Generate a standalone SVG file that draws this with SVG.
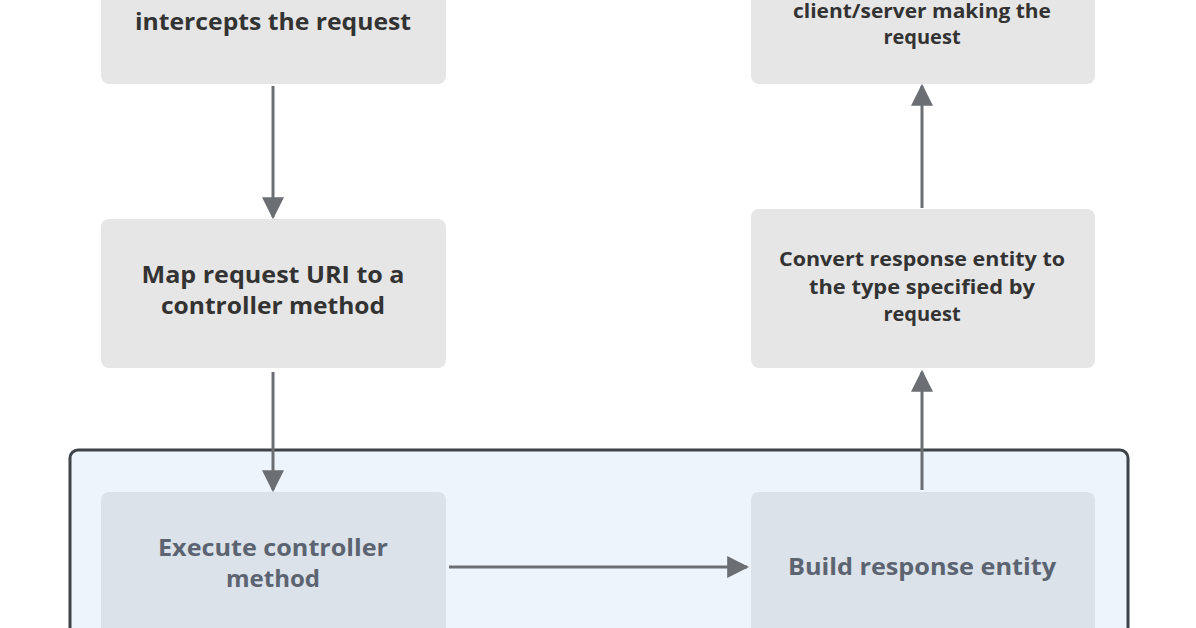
<svg xmlns="http://www.w3.org/2000/svg" width="1196" height="628" viewBox="0 0 1196 628">
<style>
.n{fill:#e6e6e6}
.b{fill:#dce2e9}
.t{font-family:"Open Sans","Liberation Sans",sans-serif;font-weight:bold;fill:#333;text-anchor:middle}
.tb{fill:#5b6470}
</style>
<defs><marker id="a2" viewBox="0 0 10 10" refX="9" refY="5" markerWidth="22" markerHeight="26" markerUnits="userSpaceOnUse" orient="auto"><path d="M0,0L10,5L0,10z" fill="#6b6f73"/></marker></defs>
<rect width="1196" height="628" fill="#fff"/>
<rect id="container" x="70" y="450" width="1058" height="200" rx="8" fill="#eef4fb" stroke="#3d4348" stroke-width="3"/>
<g id="n1"><rect class="n" x="101" y="-20" width="345" height="104" rx="8"/><text class="t" x="273" y="30" font-size="24" textLength="276" lengthAdjust="spacingAndGlyphs">intercepts the request</text></g>
<g id="n2"><rect class="n" x="751" y="-20" width="344" height="104" rx="8"/><text class="t" x="922" y="18" font-size="20" textLength="258" lengthAdjust="spacingAndGlyphs">client/server making the</text><text class="t" x="922" y="44" font-size="20">request</text></g>
<g id="n3"><rect class="n" x="101" y="219" width="345" height="149" rx="8"/><text class="t" x="273" y="283" font-size="24" textLength="263" lengthAdjust="spacingAndGlyphs">Map request URI to a</text><text class="t" x="273" y="314" font-size="24" textLength="224" lengthAdjust="spacingAndGlyphs">controller method</text></g>
<g id="n4"><rect class="n" x="751" y="209" width="344" height="159" rx="8"/><text class="t" x="922" y="266" font-size="20" textLength="286" lengthAdjust="spacingAndGlyphs">Convert response entity to</text><text class="t" x="922" y="294" font-size="20" textLength="226" lengthAdjust="spacingAndGlyphs">the type specified by</text><text class="t" x="922" y="321" font-size="20">request</text></g>
<g id="n5"><rect class="b" x="101" y="492" width="345" height="160" rx="8"/><text class="t tb" x="273" y="556" font-size="24" textLength="230" lengthAdjust="spacingAndGlyphs">Execute controller</text><text class="t tb" x="273" y="587" font-size="24">method</text></g>
<g id="n6"><rect class="b" x="751" y="492" width="344" height="160" rx="8"/><text class="t tb" x="922" y="575" font-size="24" textLength="268" lengthAdjust="spacingAndGlyphs">Build response entity</text></g>
<g id="connectors" stroke="#6b6f73" stroke-width="3" fill="none">
<path d="M273,86V217" marker-end="url(#a2)"/>
<path d="M273,372V490" marker-end="url(#a2)"/>
<path d="M922,490V372" marker-end="url(#a2)"/>
<path d="M922,208V86" marker-end="url(#a2)"/>
<path d="M449,567H747" marker-end="url(#a2)"/>
</g>
</svg>
